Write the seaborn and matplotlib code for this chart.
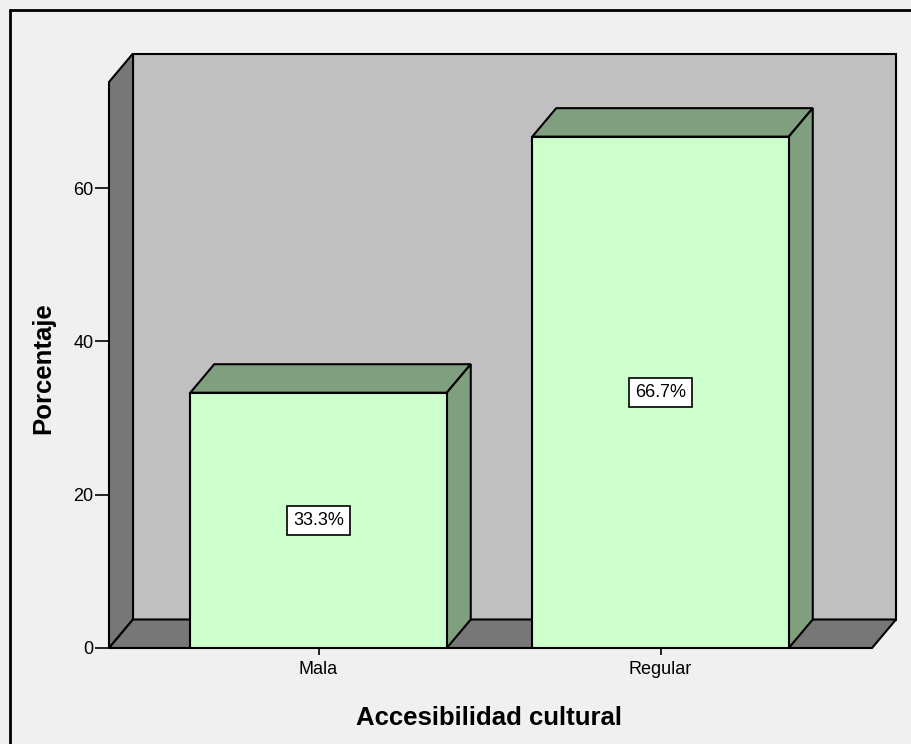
import matplotlib
matplotlib.use("Agg")
import matplotlib.pyplot as plt
from matplotlib.patches import Polygon, Rectangle
from matplotlib.lines import Line2D
import seaborn as sns
import pandas as pd

categories = ["Mala", "Regular"]
values = [33.3, 66.7]
labels = ["33.3%", "66.7%"]
yticks = [0, 20, 40, 60]
xlabel = "Accesibilidad cultural"
ylabel = "Porcentaje"

sns.set_style("white")
plt.rcParams["font.family"] = ["Liberation Sans", "DejaVu Sans"]
plt.rcParams["text.color"] = "black"
plt.rcParams["axes.labelcolor"] = "black"
plt.rcParams["xtick.color"] = "black"
plt.rcParams["ytick.color"] = "black"

W, H = 911, 744
fig = plt.figure(figsize=(W / 100, H / 100), dpi=100)
fig.patch.set_facecolor("#F0F0F0")

# front plane of the 3D box (pixels)
L, R, B, T = 109, 872, 648, 82
ax = fig.add_axes([L / W, (H - B) / H, (R - L) / W, (B - T) / H])
ax.set_facecolor("none")
xmin, xmax = -0.6126, 1.6184
ymin, ymax = 0, 73.83
ax.set_xlim(xmin, xmax)
ax.set_ylim(ymin, ymax)

# depth offset in data units
DXp, DYp = 24, 28.5
DX = DXp * (xmax - xmin) / (R - L)
DY = DYp * (ymax - ymin) / (B - T)

WALL = "#777777"
BACK = "#C0C0C0"
lw = 1.5

# back wall
ax.add_patch(Rectangle((xmin + DX, ymin + DY), xmax - xmin, ymax - ymin,
                       fc=BACK, ec="black", lw=lw, clip_on=False, zorder=0.5))
# left wall
ax.add_patch(Polygon([(xmin, ymin), (xmin + DX, ymin + DY), (xmin + DX, ymax + DY), (xmin, ymax)],
                     closed=True, fc=WALL, ec="black", lw=lw, clip_on=False, zorder=0.6))
# floor
ax.add_patch(Polygon([(xmin, ymin), (xmax, ymin), (xmax + DX, ymin + DY), (xmin + DX, ymin + DY)],
                     closed=True, fc=WALL, ec="black", lw=lw, clip_on=False, zorder=0.6))

df = pd.DataFrame({"cat": categories, "val": values})
sns.barplot(data=df, x="cat", y="val", width=0.75, color="#CCFFCC", saturation=1,
            edgecolor="black", linewidth=lw, ax=ax, zorder=3)
ax.set_xlim(xmin, xmax)
ax.set_ylim(ymin, ymax)

SIDE = "#7F9F7F"
for p, lab in zip(ax.patches[-len(values):], labels):
    x0, y0 = p.get_x(), p.get_y()
    w, h = p.get_width(), p.get_height()
    x1, y1 = x0 + w, y0 + h
    ax.add_patch(Polygon([(x0, y1), (x1, y1), (x1 + DX, y1 + DY), (x0 + DX, y1 + DY)],
                         closed=True, fc=SIDE, ec="black", lw=lw, clip_on=False, zorder=2.5))
    ax.add_patch(Polygon([(x1, y0), (x1 + DX, y0 + DY), (x1 + DX, y1 + DY), (x1, y1)],
                         closed=True, fc=SIDE, ec="black", lw=lw, clip_on=False, zorder=2.5))
    ax.text(x0 + w / 2, y0 + h / 2, lab, ha="center", va="center", fontsize=13, zorder=5,
            color="black",
            bbox=dict(boxstyle="square,pad=0.35", fc="white", ec="black", lw=1.2))

for s in ax.spines.values():
    s.set_visible(False)

ax.set_yticks(yticks)
ax.set_yticklabels([str(v) for v in yticks])
ax.tick_params(axis="y", length=10, width=1.2, pad=1, labelsize=13, colors="black", left=True)
ax.tick_params(axis="x", length=5, width=1.2, pad=4, labelsize=13, colors="black", bottom=True)

ax.set_xlabel(xlabel, fontsize=18.5, fontweight="bold", color="black")
ax.set_ylabel(ylabel, fontsize=18.5, fontweight="bold", color="black")
ax.xaxis.set_label_coords((488.5 - L) / (R - L), (H - 706 - (H - B)) / (B - T))
ax.yaxis.set_label_coords((55 - L) / (R - L), (B - 368) / (B - T))

# outer frame (top and left edges visible)
fig.add_artist(Line2D([10 / W, 10 / W], [0, 1 - 10 / H], color="black", lw=2))
fig.add_artist(Line2D([10 / W, 1], [1 - 10 / H, 1 - 10 / H], color="black", lw=2))

fig.savefig("out.png", dpi=100, facecolor=fig.get_facecolor())
